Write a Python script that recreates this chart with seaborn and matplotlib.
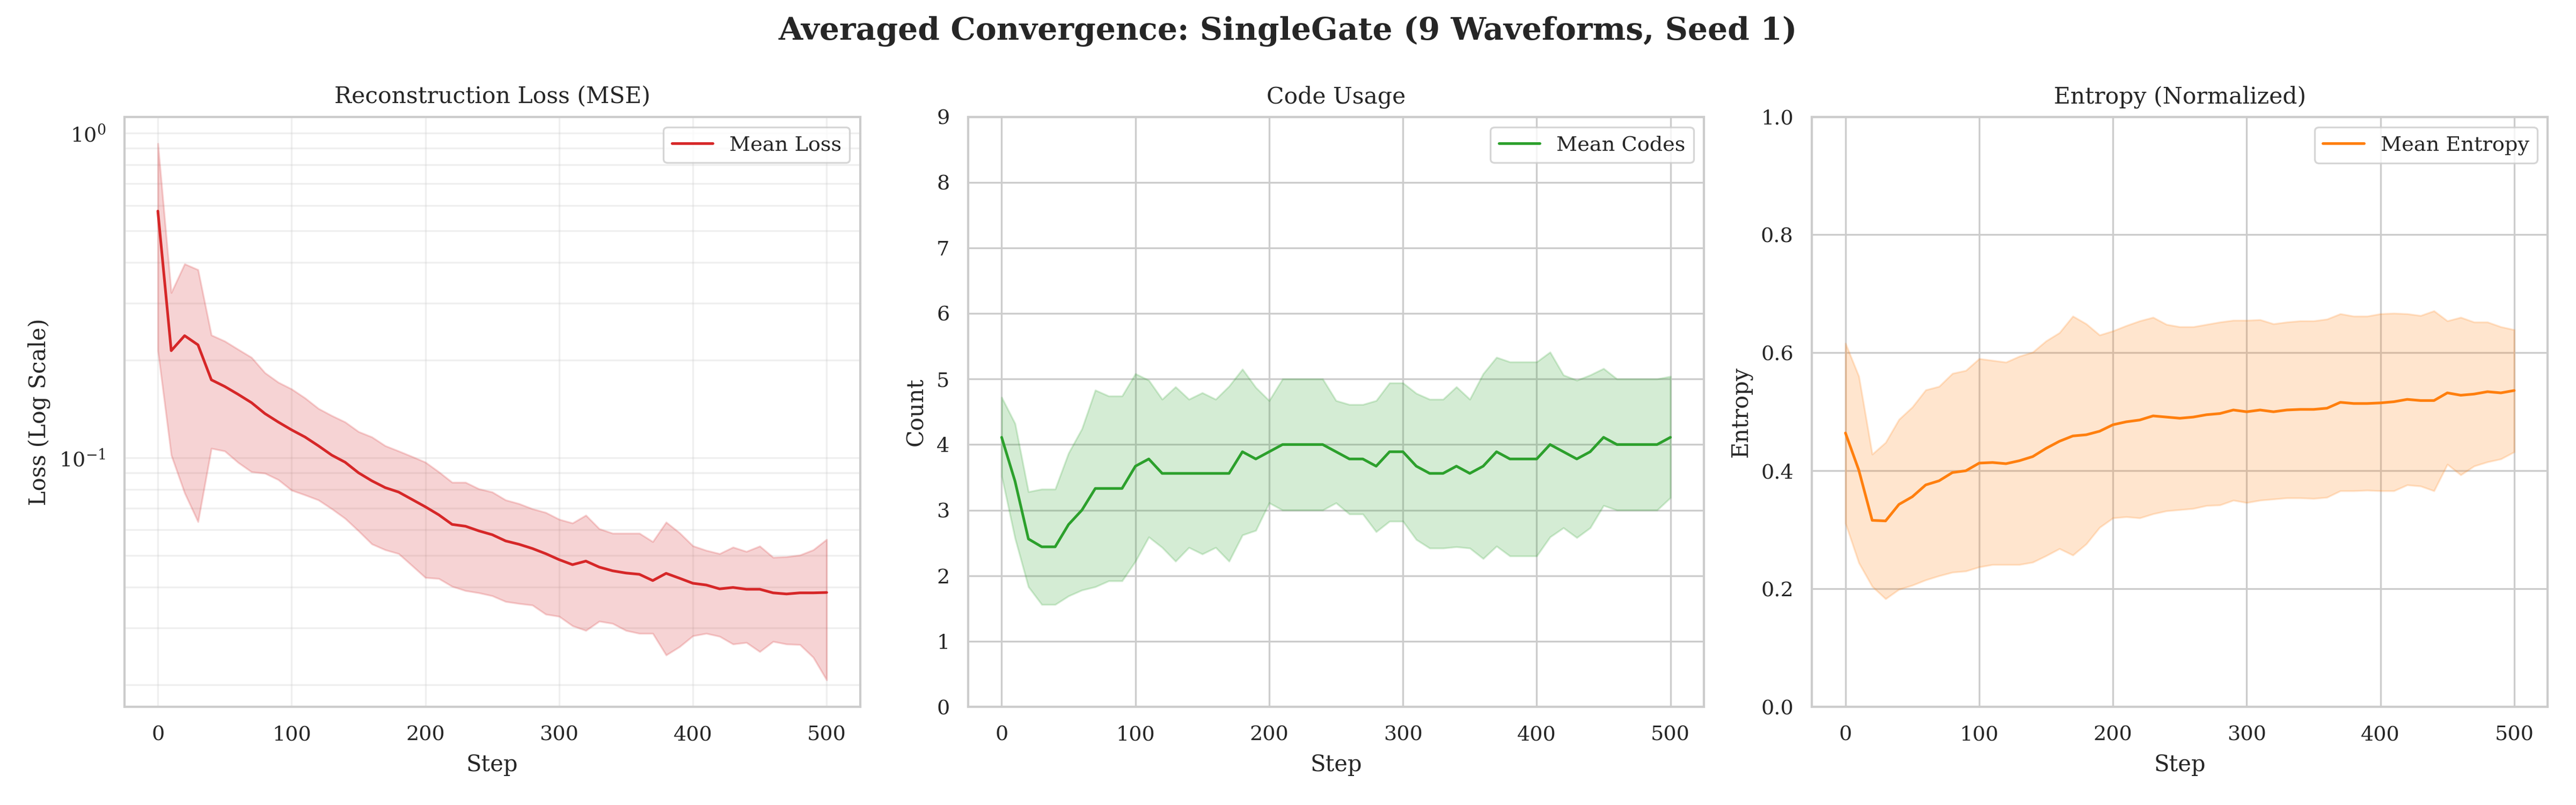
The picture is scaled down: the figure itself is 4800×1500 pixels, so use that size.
import numpy as np
import seaborn as sns
from matplotlib import pyplot as plt

# ---- data (steps 0..500 every 10) ----
steps = list(range(0, 510, 10))

loss_mean = [0.576, 0.214, 0.238, 0.223, 0.174, 0.166, 0.157, 0.148, 0.137, 0.129,
             0.122, 0.116, 0.109, 0.102, 0.097, 0.090, 0.085, 0.081, 0.0785, 0.0745,
             0.0707, 0.0668, 0.0624, 0.0616, 0.0596, 0.0580, 0.0555, 0.0542, 0.0526, 0.0507,
             0.0486, 0.0469, 0.0481, 0.0461, 0.0449, 0.0442, 0.0438, 0.0419, 0.0441, 0.0426,
             0.0411, 0.0406, 0.0395, 0.0399, 0.0394, 0.0394, 0.0384, 0.0381, 0.0384, 0.0384,
             0.0385]
loss_hi = [0.93, 0.323, 0.396, 0.380, 0.239, 0.229, 0.216, 0.204, 0.183, 0.171,
           0.163, 0.153, 0.142, 0.135, 0.129, 0.1205, 0.116, 0.109, 0.105, 0.101,
           0.097, 0.0906, 0.0841, 0.0841, 0.0803, 0.0785, 0.0742, 0.0723, 0.0697, 0.0679,
           0.0647, 0.0630, 0.0666, 0.0605, 0.0586, 0.0586, 0.0586, 0.0552, 0.0634, 0.0588,
           0.0536, 0.0519, 0.0507, 0.0531, 0.0515, 0.0535, 0.0494, 0.0496, 0.0502, 0.0521,
           0.0561]
loss_lo = [0.214, 0.102, 0.078, 0.0636, 0.107, 0.105, 0.0968, 0.0906, 0.0897, 0.0857,
           0.0795, 0.0769, 0.0742, 0.0697, 0.0651, 0.0596, 0.0543, 0.0521, 0.0507, 0.0466,
           0.0428, 0.0425, 0.0402, 0.0390, 0.0384, 0.0376, 0.0361, 0.0356, 0.0352, 0.0330,
           0.0325, 0.0304, 0.0294, 0.0314, 0.0309, 0.0294, 0.0288, 0.0288, 0.0247, 0.0262,
           0.0283, 0.0288, 0.0282, 0.0267, 0.0270, 0.0253, 0.0272, 0.0267, 0.0266, 0.0243,
           0.0207]

codes_mean = [4.11, 3.44, 2.56, 2.44, 2.44, 2.78, 3.00, 3.33, 3.33, 3.33,
              3.67, 3.78, 3.56, 3.56, 3.56, 3.56, 3.56, 3.56, 3.89, 3.78,
              3.89, 4.00, 4.00, 4.00, 4.00, 3.89, 3.78, 3.78, 3.67, 3.89,
              3.89, 3.67, 3.56, 3.56, 3.67, 3.56, 3.67, 3.89, 3.78, 3.78,
              3.78, 4.00, 3.89, 3.78, 3.89, 4.11, 4.00, 4.00, 4.00, 4.00,
              4.11]
codes_hi = [4.72, 4.32, 3.28, 3.32, 3.32, 3.87, 4.24, 4.83, 4.74, 4.74,
            5.08, 4.98, 4.69, 4.88, 4.69, 4.79, 4.69, 4.89, 5.15, 4.87,
            4.67, 5.00, 5.00, 5.00, 5.00, 4.67, 4.61, 4.61, 4.67, 4.94,
            4.94, 4.78, 4.69, 4.69, 4.88, 4.69, 5.08, 5.33, 5.26, 5.26,
            5.26, 5.41, 5.06, 4.98, 5.06, 5.16, 5.00, 5.00, 5.00, 5.00,
            5.04]
codes_lo = [3.52, 2.57, 1.83, 1.56, 1.56, 1.69, 1.78, 1.83, 1.92, 1.92,
            2.22, 2.59, 2.43, 2.22, 2.43, 2.33, 2.43, 2.22, 2.62, 2.69,
            3.11, 3.00, 3.00, 3.00, 3.00, 3.11, 2.94, 2.94, 2.67, 2.83,
            2.83, 2.55, 2.42, 2.42, 2.44, 2.42, 2.26, 2.45, 2.30, 2.30,
            2.30, 2.59, 2.73, 2.58, 2.73, 3.07, 3.00, 3.00, 3.00, 3.00,
            3.19]

ent_mean = [0.464, 0.401, 0.316, 0.315, 0.343, 0.356, 0.376, 0.383, 0.397, 0.400,
            0.413, 0.414, 0.412, 0.417, 0.424, 0.438, 0.450, 0.459, 0.461, 0.467,
            0.478, 0.483, 0.486, 0.493, 0.491, 0.489, 0.491, 0.495, 0.497, 0.503,
            0.500, 0.503, 0.500, 0.503, 0.504, 0.504, 0.506, 0.516, 0.514, 0.514,
            0.515, 0.517, 0.521, 0.519, 0.519, 0.532, 0.528, 0.530, 0.534, 0.532,
            0.536]
ent_hi = [0.616, 0.560, 0.428, 0.448, 0.487, 0.508, 0.537, 0.543, 0.565, 0.570,
          0.590, 0.587, 0.584, 0.594, 0.601, 0.620, 0.634, 0.662, 0.649, 0.630,
          0.637, 0.646, 0.654, 0.660, 0.648, 0.644, 0.644, 0.648, 0.652, 0.655,
          0.655, 0.656, 0.649, 0.652, 0.654, 0.654, 0.657, 0.666, 0.662, 0.662,
          0.666, 0.667, 0.666, 0.663, 0.671, 0.654, 0.660, 0.652, 0.652, 0.644,
          0.639]
ent_lo = [0.311, 0.244, 0.204, 0.183, 0.199, 0.206, 0.215, 0.222, 0.228, 0.230,
          0.237, 0.241, 0.241, 0.241, 0.245, 0.256, 0.268, 0.257, 0.276, 0.304,
          0.320, 0.322, 0.320, 0.327, 0.332, 0.334, 0.336, 0.341, 0.342, 0.350,
          0.346, 0.350, 0.352, 0.354, 0.354, 0.353, 0.355, 0.366, 0.366, 0.367,
          0.366, 0.366, 0.376, 0.374, 0.366, 0.411, 0.393, 0.408, 0.415, 0.420,
          0.432]

# ---- style ----
sns.set_theme(style="whitegrid", context="paper", font="serif")
plt.rcParams.update({"xtick.labelsize": 9.2, "ytick.labelsize": 9.2,
                     "axes.labelsize": 10, "axes.titlesize": 10.2,
                     "legend.fontsize": 9.2})

fig, axes = plt.subplots(1, 3, figsize=(16, 5))
fig.subplots_adjust(left=0.0483, right=0.989, bottom=0.122, top=0.855, wspace=0.147)

# Panel 1: loss (log scale)
ax = axes[0]
sns.lineplot(x=steps, y=loss_mean, ax=ax, color="#d62728", label="Mean Loss")
ax.fill_between(steps, loss_lo, loss_hi, color="#d62728", alpha=0.2)
ax.set_yscale("log")
ax.grid(True, which="both", ls="-", alpha=0.3)
ax.set_title("Reconstruction Loss (MSE)")
ax.set_xlabel("Step")
ax.set_ylabel("Loss (Log Scale)")
ax.legend(loc="upper right")

# Panel 2: code usage
ax = axes[1]
sns.lineplot(x=steps, y=codes_mean, ax=ax, color="#2ca02c", label="Mean Codes")
ax.fill_between(steps, codes_lo, codes_hi, color="#2ca02c", alpha=0.2)
ax.set_ylim(0, 9)
ax.set_title("Code Usage")
ax.set_xlabel("Step")
ax.set_ylabel("Count")
ax.legend(loc="upper right")

# Panel 3: entropy
ax = axes[2]
sns.lineplot(x=steps, y=ent_mean, ax=ax, color="#ff7f0e", label="Mean Entropy")
ax.fill_between(steps, ent_lo, ent_hi, color="#ff7f0e", alpha=0.2)
ax.set_ylim(0, 1)
ax.set_title("Entropy (Normalized)")
ax.set_xlabel("Step")
ax.set_ylabel("Entropy")
ax.legend(loc="upper right")

fig.suptitle("Averaged Convergence: SingleGate (9 Waveforms, Seed 1)",
             fontsize=14, fontweight="bold")

plt.savefig("out.png", dpi=300)
